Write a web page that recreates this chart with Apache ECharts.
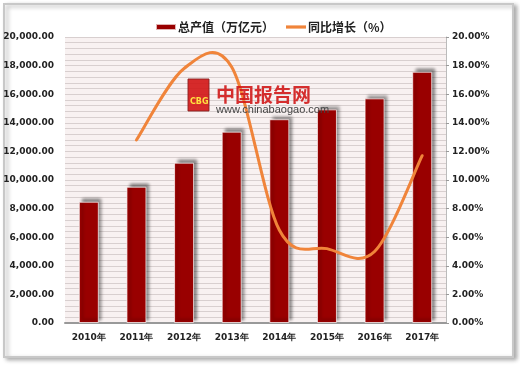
<!DOCTYPE html>
<html><head><meta charset="utf-8">
<script src="https://cdn.jsdelivr.net/npm/echarts@6/dist/echarts.min.js"></script>
<style>html,body{margin:0;padding:0;background:#fff}#c{width:520px;height:366px}</style>
</head><body><div id="c"></div>
<script>
var categories = ['2010年','2011年','2012年','2013年','2014年','2015年','2016年','2017年'];
var outputValues = [8480, 9530, 11210, 13380, 14250, 14940, 15710, 17570];
var growthRates = [null, 12.8, 17.8, 17.9, 6.5, 5.2, 5.0, 11.7];
var seriesNames = ['总产值（万亿元）', '同比增长（%）'];

var lineColor = '#f0843a';
var chart = echarts.init(document.getElementById('c'), null, {renderer:'canvas'});
var labelFont = {fontFamily:'DejaVu Sans', fontWeight:'bold', fontSize:9, color:'#222'};

// Smooth curve (Catmull-Rom style, like office charts) through points placed by the axes
function renderCurve(params, api) {
  var first = -1;
  for (var k = 0; k < growthRates.length; k++) { if (growthRates[k] != null) { first = k; break; } }
  if (params.dataIndex !== first) return;
  var pts = [];
  for (var i = 0; i < growthRates.length; i++) {
    if (growthRates[i] == null) continue;
    pts.push(api.coord([i, growthRates[i]]));
  }
  var n = pts.length, d = 'M' + pts[0][0] + ',' + pts[0][1];
  for (var j = 0; j < n - 1; j++) {
    var p0 = pts[Math.max(j - 1, 0)], p1 = pts[j], p2 = pts[j + 1], p3 = pts[Math.min(j + 2, n - 1)];
    var c1x = p1[0] + (p2[0] - p0[0]) / 6, c1y = p1[1] + (p2[1] - p0[1]) / 6;
    var c2x = p2[0] - (p3[0] - p1[0]) / 6, c2y = p2[1] - (p3[1] - p1[1]) / 6;
    d += ' C' + c1x + ',' + c1y + ' ' + c2x + ',' + c2y + ' ' + p2[0] + ',' + p2[1];
  }
  return {type:'path', shape:{pathData:d}, style:{fill:null, stroke:lineColor, lineWidth:3, lineCap:'round', lineJoin:'round'}};
}

chart.setOption({
  animation:false,
  backgroundColor:'#fff',
  graphic:[
    {type:'rect', z:-10, shape:{x:4,y:4,width:509,height:353}, style:{fill:'#fff', stroke:'#c8c8c8', lineWidth:2, shadowColor:'rgba(0,0,0,0.3)', shadowBlur:4, shadowOffsetX:3, shadowOffsetY:2}},
    {type:'rect', z:100, shape:{x:188,y:79,width:21,height:32}, style:{fill:'#d21414', stroke:'#8a2020', lineWidth:1, opacity:0.9}},
    {type:'text', z:101, x:190, y:98, style:{text:'CBG', fill:'#ffe040', font:'bold 8px "DejaVu Sans"'}},
    {type:'text', z:100, x:216, y:85, style:{text:'中国报告网', fill:'#d01818', font:'bold 19px "Noto Sans CJK SC"', opacity:0.9}},
    {type:'text', z:100, x:216, y:104, style:{text:'www.chinabaogao.com', fill:'#444', font:'11px "Liberation Sans"'}}
  ],
  legend:{
    top:16, left:150, itemGap:12, itemWidth:20, itemHeight:6,
    textStyle:{fontFamily:'Noto Sans CJK SC', fontWeight:'bold', fontSize:12, color:'#222', padding:[0,0,0,-3]},
    data:[{name:seriesNames[0], icon:'rect'},
          {name:seriesNames[1], icon:'path://M0,0 L20,0 L20,3.2 L0,3.2 Z', itemStyle:{color:lineColor}}]
  },
  grid:{left:65, right:74, top:37, bottom:43, show:true, backgroundColor:'#f8f1f1', borderWidth:0},
  xAxis:{
    type:'category', data:categories,
    axisLine:{lineStyle:{color:'#999', width:2}},
    axisTick:{show:false},
    axisLabel:Object.assign({margin:10}, labelFont)
  },
  yAxis:[
    {type:'value', min:0, max:20000, interval:2000,
     axisLine:{show:false}, axisTick:{show:false},
     axisLabel:Object.assign({margin:11, formatter:function(v){return v.toLocaleString('en-US',{minimumFractionDigits:2,maximumFractionDigits:2});}}, labelFont),
     splitLine:{show:true, lineStyle:{color:'#d8cfcf', width:1}},
     minorTick:{show:false, splitNumber:5},
     minorSplitLine:{show:true, lineStyle:{color:'#d8cfcf', width:1}}
    },
    {type:'value', min:0, max:20, interval:2, position:'right',
     axisLine:{show:true, lineStyle:{color:'#bbb'}}, axisTick:{show:true, length:3, lineStyle:{color:'#999'}},
     axisLabel:Object.assign({margin:6, formatter:function(v){return v.toFixed(2)+'%';}}, labelFont),
     splitLine:{show:false}
    }
  ],
  series:[
    {name:seriesNames[0], type:'bar', data:outputValues, barWidth:20,
     itemStyle:{color:'#990000', borderColor:'rgba(255,255,255,0.7)', borderWidth:1,
       shadowColor:'rgba(0,0,0,0.45)', shadowBlur:3, shadowOffsetX:3, shadowOffsetY:-3}},
    {name:seriesNames[1], type:'custom', yAxisIndex:1, renderItem:renderCurve, clip:false, z:5,
     itemStyle:{color:lineColor},
     data:growthRates.map(function(v, i){ return v == null ? [i, '-'] : [i, v]; })}
  ]
});
</script></body></html>
